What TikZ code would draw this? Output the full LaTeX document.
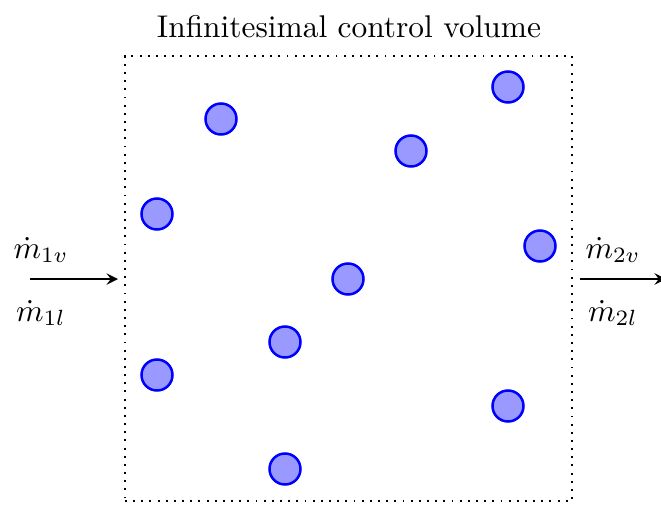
\documentclass[tikz,border=0pt]{standalone}
\usetikzlibrary{arrows}
\begin{document}
\begin{tikzpicture}[x=0.3185pt,y=-0.3185pt,>=stealth,
  drop/.style={circle,draw=blue,fill=blue!40,thick,minimum size=31*0.3185pt,inner sep=0pt},
  cvbox/.style={draw,dotted,semithick,minimum width=447*0.3185pt,minimum height=445*0.3185pt,inner sep=0pt},
  flow/.style={->,semithick},
  lbl/.style={inner sep=0pt}]
\useasboundingbox (0,0) rectangle (661,505);
\node[cvbox] (box) at (348.5,278.5) {};
\node (title) at (349,27) {Infinitesimal control volume};
\node[drop] (d1) at (221,119) {};
\node[drop] (d2) at (508,87) {};
\node[drop] (d3) at (411,151) {};
\node[drop] (d4) at (157,214) {};
\node[drop] (d5) at (540,246) {};
\node[drop] (d6) at (348,279) {};
\node[drop] (d7) at (285,342) {};
\node[drop] (d8) at (157,375) {};
\node[drop] (d9) at (508,406) {};
\node[drop] (d10) at (285,469) {};
\coordinate (inA) at (30,279);
\coordinate (inB) at (118,279);
\coordinate (outA) at (580,279);
\coordinate (outB) at (666,279);
\draw[flow] (inA) -- (inB);
\draw[flow] (outA) -- (outB);
\node[lbl] (m1v) at (41,250) {$\dot m_{1v}$};
\node[lbl] (m1l) at (41,313) {$\dot m_{1l}$};
\node[lbl] (m2v) at (613,250) {$\dot m_{2v}$};
\node[lbl] (m2l) at (613,313) {$\dot m_{2l}$};
\end{tikzpicture}
\end{document}
